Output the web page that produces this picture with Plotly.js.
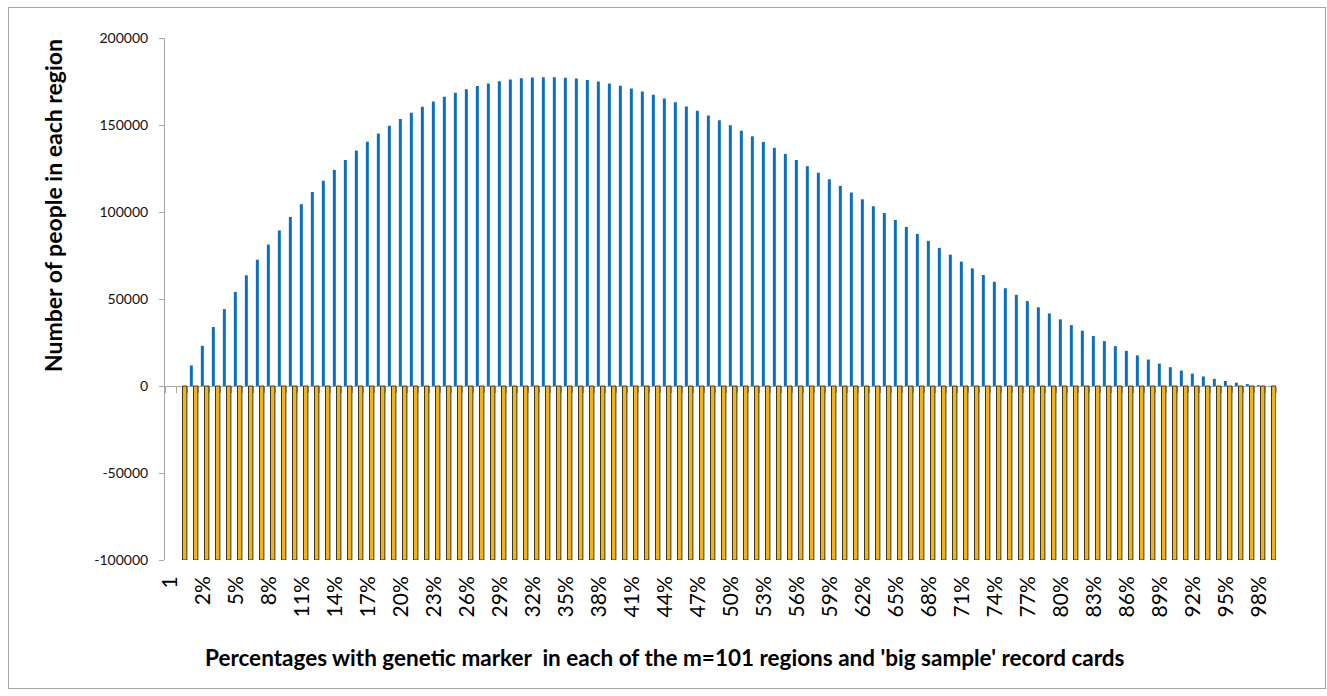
<!DOCTYPE html>
<html>
<head>
<meta charset="utf-8">
<script src="https://cdn.plot.ly/plotly-3.0.1.min.js"></script>
<style>
  html, body { margin: 0; padding: 0; background: #ffffff; }
  #frame { position: absolute; left: 8px; top: 7px; width: 1316px; height: 680px; border: 1px solid #A6A6A6; }
  #chart { position: absolute; left: 0; top: 0; width: 1327px; height: 696px; }
</style>
</head>
<body>
<div id="frame"></div>
<div id="chart"></div>
<script>
// Categories: first label "1", then 0% .. 99%
const categories = ["1",
  "0%","1%","2%","3%","4%","5%","6%","7%","8%","9%",
  "10%","11%","12%","13%","14%","15%","16%","17%","18%","19%",
  "20%","21%","22%","23%","24%","25%","26%","27%","28%","29%",
  "30%","31%","32%","33%","34%","35%","36%","37%","38%","39%",
  "40%","41%","42%","43%","44%","45%","46%","47%","48%","49%",
  "50%","51%","52%","53%","54%","55%","56%","57%","58%","59%",
  "60%","61%","62%","63%","64%","65%","66%","67%","68%","69%",
  "70%","71%","72%","73%","74%","75%","76%","77%","78%","79%",
  "80%","81%","82%","83%","84%","85%","86%","87%","88%","89%",
  "90%","91%","92%","93%","94%","95%","96%","97%","98%","99%"];

// Number of people in each region (blue)
const peopleInRegion = [null,
  0, 11800, 23100, 33900, 44200, 54100, 63600, 72600, 81300, 89400,
  97200, 104500, 111500, 118000, 124200, 129900, 135300, 140400, 145100, 149500,
  153500, 157100, 160500, 163500, 166200, 168500, 170600, 172400, 173900, 175100,
  176100, 176800, 177300, 177500, 177400, 177200, 176700, 175900, 175000, 173800,
  172500, 171000, 169300, 167400, 165300, 163100, 160700, 158200, 155500, 152700,
  149800, 146700, 143500, 140300, 136900, 133400, 129900, 126300, 122600, 118800,
  115000, 111200, 107300, 103300, 99400, 95400, 91400, 87400, 83400, 79400,
  75500, 71500, 67600, 63800, 59900, 56200, 52400, 48800, 45200, 41700,
  38300, 35000, 31800, 28700, 25800, 22900, 20200, 17600, 15200, 12900,
  10800, 8900, 7100, 5500, 4100, 2900, 1900, 1100, 500, 100];

// 'Big sample' record cards (yellow)
const recordCards = [null,
  -100000, -100000, -100000, -100000, -100000, -100000, -100000, -100000, -100000, -100000,
  -100000, -100000, -100000, -100000, -100000, -100000, -100000, -100000, -100000, -100000,
  -100000, -100000, -100000, -100000, -100000, -100000, -100000, -100000, -100000, -100000,
  -100000, -100000, -100000, -100000, -100000, -100000, -100000, -100000, -100000, -100000,
  -100000, -100000, -100000, -100000, -100000, -100000, -100000, -100000, -100000, -100000,
  -100000, -100000, -100000, -100000, -100000, -100000, -100000, -100000, -100000, -100000,
  -100000, -100000, -100000, -100000, -100000, -100000, -100000, -100000, -100000, -100000,
  -100000, -100000, -100000, -100000, -100000, -100000, -100000, -100000, -100000, -100000,
  -100000, -100000, -100000, -100000, -100000, -100000, -100000, -100000, -100000, -100000,
  -100000, -100000, -100000, -100000, -100000, -100000, -100000, -100000, -100000, -100000];

const xTickLabels = ["1","2%","5%","8%","11%","14%","17%","20%","23%","26%","29%","32%","35%",
  "38%","41%","44%","47%","50%","53%","56%","59%","62%","65%","68%","71%","74%","77%",
  "80%","83%","86%","89%","92%","95%","98%"];

const yTickVals = [-100000, -50000, 0, 50000, 100000, 150000, 200000];
const yTickLabels = ["-100000", "-50000", "0", "50000", "100000", "150000", "200000"];

const xTitle = "Percentages with genetic marker  in each of the m=101 regions and 'big sample' record cards";
const yTitle = "Number of people in each region";

const FONT = "Lato, 'Open Sans', sans-serif";

const traces = [
  {
    type: 'bar', x: categories, y: peopleInRegion, name: 'People',
    marker: { color: '#0A6FC2', line: { width: 0 } },
    width: 0.27, offset: -0.24, hoverinfo: 'x+y'
  },
  {
    type: 'bar', x: categories, y: recordCards, name: 'Record cards',
    marker: { color: '#F0B414', line: { color: '#2A2418', width: 0.9 } },
    width: 0.40, offset: 0.09, hoverinfo: 'x+y'
  },
  {
    type: 'scatter', x: [0], y: [null], xaxis: 'x2', yaxis: 'y',
    mode: 'markers', showlegend: false, hoverinfo: 'skip'
  }
];

const zeroFrac = (0 - (-100000)) / (200000 - (-100000));

const layout = {
  width: 1327, height: 696,
  margin: { l: 165, r: 51, t: 38, b: 136 },
  paper_bgcolor: 'rgba(0,0,0,0)',
  plot_bgcolor: 'rgba(0,0,0,0)',
  showlegend: false,
  barmode: 'overlay',
  font: { family: FONT, color: '#000000' },
  xaxis: {
    type: 'category',
    categoryorder: 'array', categoryarray: categories,
    range: [-0.5, categories.length - 0.5],
    tickmode: 'array', tickvals: xTickLabels, ticktext: xTickLabels,
    tickangle: -90,
    ticks: '', showline: false, showgrid: false, zeroline: false,
    tickfont: { family: FONT, size: 21, color: '#000000' },
    ticklabelstandoff: 11,
    fixedrange: true
  },
  xaxis2: {
    overlaying: 'x', anchor: 'free', position: zeroFrac, side: 'bottom',
    type: 'linear', range: [-0.5, categories.length - 0.5],
    tickmode: 'linear', tick0: -0.5, dtick: 1,
    ticks: 'outside', ticklen: 6, tickwidth: 1, tickcolor: '#A6A6A6',
    showticklabels: false, showgrid: false, zeroline: false,
    showline: true, linecolor: '#A6A6A6', linewidth: 1,
    layer: 'below traces', fixedrange: true
  },
  yaxis: {
    range: [-100000, 200000],
    tickmode: 'array', tickvals: yTickVals, ticktext: yTickLabels,
    ticks: 'outside', ticklen: 5, tickcolor: '#A6A6A6', tickwidth: 1,
    showline: true, linecolor: '#A6A6A6', linewidth: 1,
    showgrid: false, zeroline: false,
    tickfont: { family: FONT, size: 14, color: '#111111' },
    ticklabelstandoff: 8,
    fixedrange: true
  },
  annotations: [
    {
      xref: 'paper', yref: 'paper',
      x: (665 - 165) / 1111, y: (560 - 657) / 522,
      xanchor: 'center', yanchor: 'middle', showarrow: false,
      text: xTitle,
      font: { family: FONT, size: 22.5, color: '#000000', weight: 'bold' }
    },
    {
      xref: 'paper', yref: 'paper',
      x: (53 - 165) / 1111, y: (560 - 206) / 522,
      xanchor: 'center', yanchor: 'middle', showarrow: false,
      textangle: -90,
      text: yTitle,
      font: { family: FONT, size: 23, color: '#000000', weight: 'bold' }
    }
  ]
};

Plotly.newPlot('chart', traces, layout, { displayModeBar: false, staticPlot: true });
</script>
</body>
</html>
